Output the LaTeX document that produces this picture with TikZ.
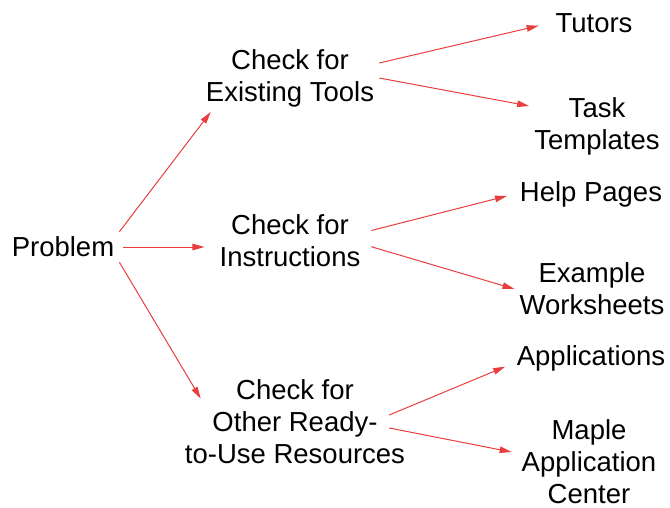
\documentclass[tikz,border=0pt]{standalone}
\usepackage{fontspec}
\setmainfont{Liberation Sans}
\usetikzlibrary{arrows.meta,positioning}
\definecolor{linkred}{RGB}{232,62,62}
\tikzset{
  item/.style={
    align=center,
    inner sep=5pt,
    font=\fontsize{27.5}{32}\selectfont
  },
  arrow/.style={
    -{Triangle[length=12pt,width=6.5pt]},
    line width=1pt,
    linkred
  }
}
\begin{document}
\begin{tikzpicture}[x=1pt,y=-1pt]
\useasboundingbox (0,0) rectangle (670,508);
\node[item] (prob) at (63,247) {Problem};
\node[item] (tools) at (290,78) {Check for\\Existing Tools};
\node[item] (instr) at (290,241) {Check for\\Instructions};
\node[item] (other) at (295,422) {Check for\\Other Ready-\\to-Use Resources};
\node[item] (tutors) at (594,23) {Tutors};
\node[item] (templ) at (597,126) {Task\\Templates};
\node[item] (help) at (591,194) {Help Pages};
\node[item] (sheets) at (592,289) {Example\\Worksheets};
\node[item] (apps) at (591,358) {Applications};
\node[item,inner ysep=1pt] (center) at (589,462) {Maple\\Application\\Center};
\draw[arrow] (prob.north east) -- ([xshift=10pt]tools.south west);
\draw[arrow,shorten <=4pt,shorten >=10pt] (prob.east) -- (prob.east -| instr.west);
\draw[arrow] (prob.south east) -- ([xshift=21pt,yshift=-24pt]other.north west);
\draw[arrow,shorten >=12pt] ([yshift=15pt]tools.east) -- (tutors.west);
\draw[arrow] (tools.east) -- ([yshift=-14pt]templ.north west);
\draw[arrow,shorten <=6pt,shorten >=8pt] ([yshift=9pt]instr.east) -- (help.west);
\draw[arrow,shorten <=6pt] ([yshift=-4pt]instr.east) -- (sheets.west);
\draw[arrow,shorten >=7pt] ([xshift=-21pt,yshift=7pt]other.east) -- ([yshift=-6pt]apps.west);
\draw[arrow,shorten >=5pt] ([xshift=-21pt,yshift=-6pt]other.east) -- ([yshift=9pt]center.west);
\end{tikzpicture}
\end{document}
